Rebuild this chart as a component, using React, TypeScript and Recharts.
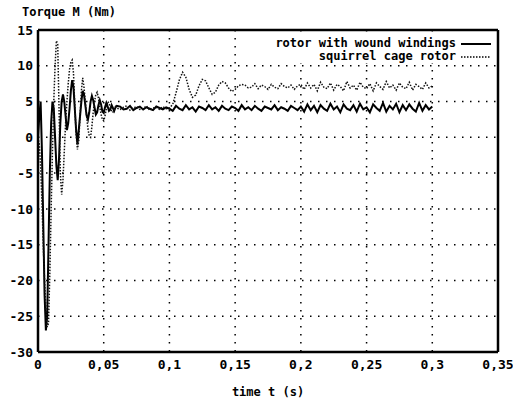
import React from 'react';
import { LineChart, Line, XAxis, YAxis, CartesianGrid, ReferenceLine } from 'recharts';

// time samples (s): 1 ms steps through the start-up transient, 2.5 ms afterwards
const time = [
  0, 0.001, 0.002, 0.003, 0.004, 0.005, 0.006, 0.007, 0.008, 0.009,
  0.01, 0.011, 0.012, 0.013, 0.014, 0.015, 0.016, 0.017, 0.018, 0.019,
  0.02, 0.021, 0.022, 0.023, 0.024, 0.025, 0.026, 0.027, 0.028, 0.029,
  0.03, 0.031, 0.032, 0.033, 0.034, 0.035, 0.036, 0.037, 0.038, 0.039,
  0.04, 0.041, 0.042, 0.043, 0.044, 0.045, 0.046, 0.047, 0.048, 0.049,
  0.05, 0.051, 0.052, 0.053, 0.054, 0.055, 0.056, 0.057, 0.058, 0.059, 0.06,
  0.0625, 0.065, 0.0675, 0.07, 0.0725, 0.075, 0.0775, 0.08, 0.0825, 0.085,
  0.0875, 0.09, 0.0925, 0.095, 0.0975, 0.1,
  0.1025, 0.105, 0.1075, 0.11, 0.1125, 0.115, 0.1175, 0.12, 0.1225, 0.125,
  0.1275, 0.13, 0.1325, 0.135, 0.1375, 0.14, 0.1425, 0.145, 0.1475, 0.15,
  0.1525, 0.155, 0.1575, 0.16, 0.1625, 0.165, 0.1675, 0.17, 0.1725, 0.175,
  0.1775, 0.18, 0.1825, 0.185, 0.1875, 0.19, 0.1925, 0.195, 0.1975, 0.2,
  0.2025, 0.205, 0.2075, 0.21, 0.2125, 0.215, 0.2175, 0.22, 0.2225, 0.225,
  0.2275, 0.23, 0.2325, 0.235, 0.2375, 0.24, 0.2425, 0.245, 0.2475, 0.25,
  0.2525, 0.255, 0.2575, 0.26, 0.2625, 0.265, 0.2675, 0.27, 0.2725, 0.275,
  0.2775, 0.28, 0.2825, 0.285, 0.2875, 0.29, 0.2925, 0.295, 0.2975, 0.3,
];

// rotor with wound windings, torque (Nm)
const woundTorque = [
  0, 3, 5, -2, -12, -22, -27, -25, -15, -5,
  2, 5, 4, 0, -4, -6, -3, 2, 5, 6,
  5, 3, 1, 2, 4, 6.5, 8, 7, 4, 1,
  -1, 1, 3, 5, 6.5, 6, 4.5, 3, 2.5, 3.5,
  5, 5.8, 5.2, 4.2, 3.2, 3.5, 4.5, 5.2, 4.6, 3.6,
  3.4, 4.2, 4.8, 4.3, 3.7, 3.9, 4.5, 4.1, 3.7, 4.2, 4.4,
  4.3, 3.9, 4.0, 4.4, 3.8, 4.1, 4.3, 3.9, 4.2, 4.0,
  3.8, 4.3, 4.1, 3.9, 4.2, 4.0,
  3.7, 4.4, 4.0, 3.8, 4.5, 3.9, 4.2, 3.6, 4.3, 4.1,
  3.8, 4.5, 3.9, 4.2, 3.7, 4.4, 4.0, 3.8, 4.3, 4.1,
  3.7, 4.5, 3.9, 4.2, 3.8, 4.4, 4.0, 3.7, 4.3, 4.1,
  3.9, 4.5, 3.8, 4.2, 4.0, 3.7, 4.4, 4.1, 3.8, 4.3,
  3.6, 4.6, 3.8, 4.4, 3.5, 4.5, 4.0, 3.7, 4.7, 3.9,
  4.3, 3.5, 4.6, 4.0, 3.8, 4.5, 3.6, 4.7, 3.9, 4.2,
  3.5, 4.6, 4.1, 3.7, 4.8, 3.6, 4.4, 3.9, 4.7, 3.5,
  4.5, 3.8, 4.6, 4.0, 3.6, 4.8, 3.7, 4.5, 3.9, 4.3,
];

// squirrel cage rotor, torque (Nm)
const cageTorque = [
  0, -1, -4, -9, -15, -20, -24, -26.5, -26, -19,
  -10, -2, 5, 10, 13.5, 13, 4, -5, -8, -6,
  -2, 2, 5, 7.5, 9.5, 10.5, 10.8, 9, 4.5, 0.5,
  -1.7, -0.5, 3, 6.5, 8.3, 7, 5, 3, 1.2, 0.2,
  0, 1.5, 3.5, 5, 6, 6.3, 5.5, 4.2, 3.2, 2.5,
  2.3, 3, 4, 5, 4.8, 4.2, 3.6, 3.5, 3.9, 4.3, 4.1,
  3.9, 4.2, 4.4, 3.8, 4.1, 4.3, 3.9, 4.0, 4.4, 3.8,
  4.1, 4.2, 3.9, 4.3, 4.0, 4.1,
  4.6, 6.2, 8.0, 9.1, 8.4, 6.7, 5.6, 5.9, 7.2, 8.1,
  7.9, 6.9, 6.0, 6.3, 7.3, 7.8, 7.6, 6.9, 6.4, 6.7,
  7.2, 7.4, 7.3, 6.9, 7.0, 7.5, 6.8, 7.3, 7.1, 6.7,
  7.4, 7.0, 6.8, 7.5, 7.1, 6.9, 7.3, 6.7, 7.2, 7.4,
  6.7, 7.6, 6.9, 7.4, 6.5, 7.7, 7.0, 6.8, 7.6, 6.6,
  7.4, 7.1, 6.5, 7.8, 6.9, 7.3, 6.6, 7.7, 7.0, 6.8,
  7.5, 6.5, 7.6, 7.1, 6.7, 7.8, 6.9, 7.3, 6.6, 7.6,
  7.0, 6.8, 7.7, 6.6, 7.4, 7.1, 6.7, 7.6, 6.9, 7.2,
];

const xTicks = [0, 0.05, 0.1, 0.15, 0.2, 0.25, 0.3, 0.35];
const xTickLabels = ['0', '0,05', '0,1', '0,15', '0,2', '0,25', '0,3', '0,35'];
const yTicks = [-30, -25, -20, -15, -10, -5, 0, 5, 10, 15];

const data = time.map((t, i) => ({ t, wound: woundTorque[i], cage: cageTorque[i] }));

const font = '"DejaVu Sans Mono", monospace';

const LegendBox = () => (
  <div style={{ position: 'absolute', right: 20, top: 37, background: 'white', fontFamily: font, fontWeight: 'bold', fontSize: 12, lineHeight: '13px', padding: '0 2px' }}>
    <div style={{ display: 'flex', alignItems: 'center', justifyContent: 'flex-end' }}>
      <span>rotor with wound windings</span>
      <svg width={30} height={10} style={{ marginLeft: 5 }}>
        <line x1={0} y1={5} x2={30} y2={5} stroke="#000" strokeWidth={2} />
      </svg>
    </div>
    <div style={{ display: 'flex', alignItems: 'center', justifyContent: 'flex-end' }}>
      <span>squirrel cage rotor</span>
      <svg width={30} height={10} style={{ marginLeft: 5 }}>
        <line x1={0} y1={5} x2={30} y2={5} stroke="#000" strokeWidth={1.5} strokeDasharray="1.5 1.5" />
      </svg>
    </div>
  </div>
);

export default function App() {
  return (
    <div style={{ position: 'absolute', left: 0, top: 0, width: 513, height: 403, background: 'white' }}>
      <div style={{ position: 'absolute', left: 22, top: 5, fontFamily: font, fontWeight: 'bold', fontSize: 12 }}>
        Torque M (Nm)
      </div>
      <div style={{ position: 'absolute', left: 0, width: 536, top: 385, textAlign: 'center', fontFamily: font, fontWeight: 'bold', fontSize: 12 }}>
        time t (s)
      </div>
      <LineChart width={513} height={403} data={data} margin={{ top: 30, right: 15, left: 0, bottom: 21 }}>
        <CartesianGrid stroke="#000" strokeWidth={1.5} strokeDasharray="1.5 6.5" horizontalValues={yTicks} verticalValues={xTicks} />
        <XAxis
          dataKey="t"
          type="number"
          domain={[0, 0.35]}
          ticks={xTicks}
          tickFormatter={(v, i) => xTickLabels[i]}
          axisLine={{ stroke: '#000', strokeWidth: 2.5 }}
          tickLine={false}
          tickSize={0}
          tickMargin={8}
          height={30}
          tick={{ fill: '#000', fontSize: 13, fontWeight: 'bold', fontFamily: font }}
        />
        <YAxis
          domain={[-30, 15]}
          ticks={yTicks}
          axisLine={{ stroke: '#000', strokeWidth: 2.5 }}
          tickLine={false}
          tickSize={0}
          tickMargin={5}
          width={38}
          tick={{ fill: '#000', fontSize: 13, fontWeight: 'bold', fontFamily: font }}
        />
        <ReferenceLine y={15} stroke="#000" strokeWidth={2.5} />
        <ReferenceLine x={0.35} stroke="#000" strokeWidth={2.5} />
        <Line type="linear" dataKey="wound" stroke="#000" strokeWidth={2} dot={false} isAnimationActive={false} />
        <Line type="linear" dataKey="cage" stroke="#111" strokeWidth={1.5} strokeDasharray="1.5 1.5" dot={false} isAnimationActive={false} />
      </LineChart>
      <LegendBox />
    </div>
  );
}
